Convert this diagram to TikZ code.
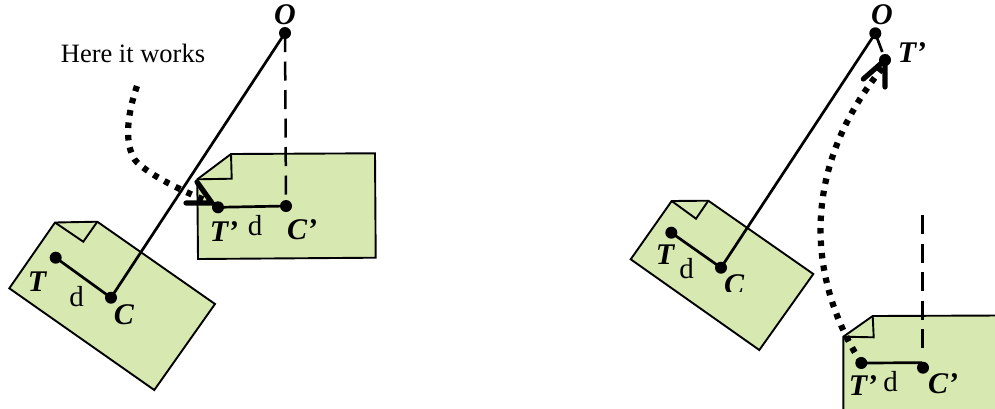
\documentclass[tikz,border=0pt]{standalone}
\usepackage{fontspec}
\setmainfont{Liberation Serif}
\definecolor{docgreen}{HTML}{D7E9B1}
\tikzset{
  docshape/.style={draw=black,fill=docgreen,line width=1.9pt,line join=miter},
  foldline/.style={draw=black,line width=1.9pt},
  dotpt/.style={circle,fill=black,inner sep=0pt,minimum size=12pt},
  link/.style={draw=black,line width=2.7pt},
  longdash/.style={draw=black,line width=2.5pt,dash pattern=on 19pt off 9.5pt},
  squaredots/.style={draw=black,line width=6.2pt,dash pattern=on 5.5pt off 7pt},
  barb/.style={draw=black,line width=5.2pt,line cap=round,line join=miter},
  lab/.style={font=\fontsize{30}{30}\selectfont\bfseries\itshape,inner sep=0pt},
  dist/.style={font=\fontsize{29}{29}\selectfont,inner sep=0pt},
  caption/.style={font=\fontsize{26.5}{26.5}\selectfont,inner sep=0pt}
}
\begin{document}
\begin{tikzpicture}[x=1pt,y=-1pt]
\useasboundingbox (0,0) rectangle (995,408);
% LEFT PART
\draw[docshape] (55,222.5) -- (97.3,221.7) -- (215,304) -- (154.3,390) -- (9.3,288.3) -- cycle;
\draw[foldline] (55,222.5) -- (83.3,241.7) -- (97.3,221.7);
\draw[docshape] (231,154) -- (375,153.3) -- (375.7,257.7) -- (198,259) -- (197.3,179.3) -- cycle;
\draw[foldline] (197.3,179.3) -- (231.7,178.7) -- (231,154);
\node[dotpt] (O1) at (285,33) {};
\node[dotpt] (T1) at (55.7,257.7) {};
\node[dotpt] (C1) at (111,297.7) {};
\node[dotpt] (Tp1) at (218,207.3) {};
\node[dotpt] (Cp1) at (286,206) {};
\draw[link] (T1.center) -- (C1.center);
\draw[link] (C1.center) -- (O1.center);
\draw[link] (Tp1.center) -- (Cp1.center);
\draw[longdash] (O1.center) -- (Cp1.center);
\coordinate (s1) at (137,86);
\coordinate (m1) at (135,160);
\coordinate (e1) at (207,201);
\draw[squaredots] (s1) .. controls (126,118) and (125,145) .. (m1) .. controls (145,172) and (175,188) .. (e1);
\coordinate (tip1) at (212,203);
\coordinate (ba1) at (197,182);
\coordinate (bb1) at (186,203);
\draw[barb] (ba1) -- (tip1) -- (bb1);
\node[lab] (lO1) at (285,15) {O};
\node[lab] (lT1) at (37,282) {T};
\node[dist] (ld1) at (76.7,297) {d};
\node[lab] (lC1) at (124,315) {C};
\node[lab] (lTp1) at (224,232) {T’};
\node[dist] (ldp1) at (255,226) {d};
\node[lab] (lCp1) at (302,230) {C’};
\node[caption] (here) at (133,53) {Here it works};
% RIGHT PART
\draw[docshape] (671.7,201) -- (708.3,200.7) -- (813.3,274) -- (759.3,350) -- (630.7,259.3) -- cycle;
\draw[foldline] (671.7,201) -- (696,218.7) -- (708.3,200.7);
\begin{scope}
\clip (0,0) rectangle (995,408);
\draw[docshape] (872.7,316) -- (1000,315.5) -- (1000,412) -- (843.3,412) -- (843.3,336.7) -- cycle;
\end{scope}
\draw[foldline] (843.3,336.7) -- (873.7,337.3) -- (872.7,316);
\node[dotpt] (O2) at (875.3,33.3) {};
\node[dotpt] (T2) at (671.3,232.7) {};
\node[dotpt] (C2) at (721,267.7) {};
\node[dotpt] (Tu2) at (885,60) {};
\node[dotpt] (Tp2) at (861.3,363) {};
\node[dotpt] (Cp2) at (923,367.7) {};
\draw[link] (T2.center) -- (C2.center);
\draw[link] (C2.center) -- (O2.center);
\coordinate (q2) at (882.3,52);
\draw[link] (O2.center) -- (q2);
\coordinate (h2) at (922,362.7);
\draw[link] (Tp2.center) -- (h2);
\coordinate (ds2) at (922.7,215);
\coordinate (de2) at (922.7,353);
\draw[longdash] (ds2) -- (de2);
\coordinate (se2) at (884,66);
\draw[squaredots] (Tp2.center) .. controls (805,275) and (802,165) .. (se2);
\coordinate (bc2) at (863.3,79);
\coordinate (bd2) at (885,87);
\draw[barb] (bc2) -- (Tu2.center) -- (bd2);
\node[lab] (lO2) at (882,15) {O};
\node[lab] (lTu2) at (912,53) {T’};
\node[lab] (lT2) at (665,255) {T};
\node[dist] (ld2) at (686.7,269) {d};
\begin{scope}
\clip (700,270) rectangle (770,291);
\node[lab] (lC2) at (734,285) {C};
\end{scope}
\node[lab] (lTp2) at (863,386) {T’};
\node[dist] (ldp2) at (890.7,382) {d};
\node[lab] (lCp2) at (943,384) {C’};
\end{tikzpicture}
\end{document}
